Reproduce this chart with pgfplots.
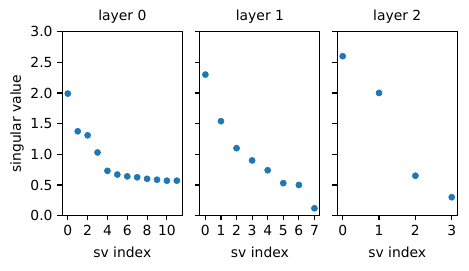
\documentclass[border=0pt]{standalone}
\usepackage{fontspec}
\setmainfont{DejaVu Sans}
\usepackage{pgfplots}
\pgfplotsset{compat=1.18}
\definecolor{mplblue}{HTML}{1F77B4}
\pgfplotsset{
  panel/.style={
    scale only axis, width=86.4pt, height=132.5pt,
    ymin=0, ymax=3,
    ytick={0,0.5,1,1.5,2,2.5,3},
    axis line style={line width=0.8pt},
    tick style={line width=0.8pt, black},
    tick align=outside, major tick length=3.5pt,
    xtick pos=bottom, ytick pos=left,
    /pgf/number format/assume math mode=true,
    tick label style={font=\fontsize{10}{12}\selectfont},
    label style={font=\fontsize{10}{12}\selectfont},
    title style={font=\fontsize{10}{12}\selectfont, yshift=-3.5pt},
    xlabel={sv index},
    xlabel style={yshift=-1pt},
    clip=false,
  },
  dots/.style={only marks, mark=*, mark size=2.2pt, color=mplblue, mark options={draw=mplblue, fill=mplblue}},
}
\begin{document}
\begin{tikzpicture}
\path[use as bounding box] (-44.9pt,-39.8pt) rectangle (292.9pt,155.3pt);
\begin{axis}[panel, at={(0pt,0pt)}, anchor=south west,
  title={layer 0}, xmin=-0.55, xmax=11.55, xtick={0,2,4,6,8,10},
  ylabel={singular value},
  yticklabel style={/pgf/number format/.cd, fixed, fixed zerofill, precision=1},
  ylabel style={yshift=-2pt}]
\addplot[dots] coordinates {(0,1.99) (1,1.375) (2,1.31) (3,1.03) (4,0.73) (5,0.67) (6,0.64) (7,0.625) (8,0.60) (9,0.585) (10,0.57) (11,0.57)};
\end{axis}
\begin{axis}[panel, at={(99.1pt,0pt)}, anchor=south west,
  title={layer 1}, xmin=-0.35, xmax=7.35, xtick={0,1,2,3,4,5,6,7},
  yticklabels={}]
\addplot[dots] coordinates {(0,2.30) (1,1.54) (2,1.10) (3,0.90) (4,0.74) (5,0.53) (6,0.50) (7,0.12)};
\end{axis}
\begin{axis}[panel, at={(198pt,0pt)}, anchor=south west,
  title={layer 2}, xmin=-0.15, xmax=3.15, xtick={0,1,2,3},
  yticklabels={}]
\addplot[dots] coordinates {(0,2.60) (1,2.00) (2,0.65) (3,0.30)};
\end{axis}
\end{tikzpicture}
\end{document}
